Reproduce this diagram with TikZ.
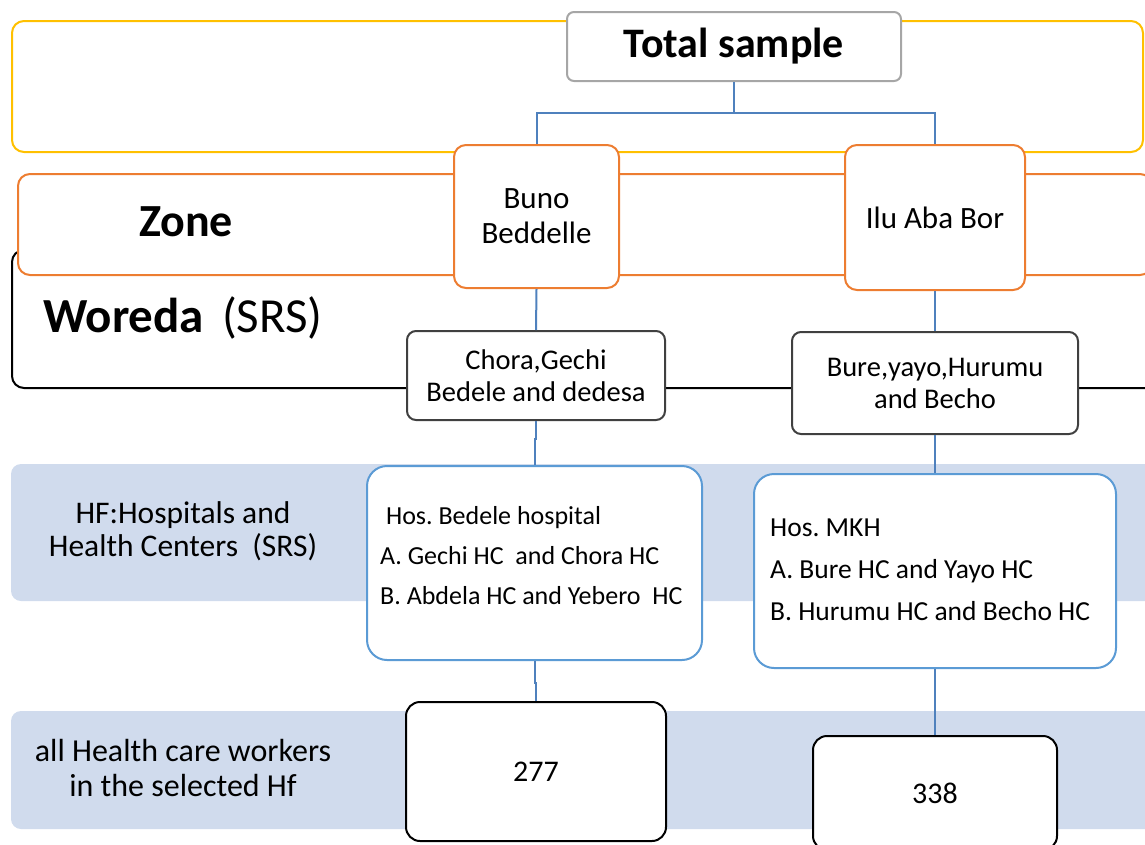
\documentclass[tikz,border=0pt]{standalone}
\usepackage{fontspec}
\setmainfont{Carlito}
\frenchspacing
\definecolor{cyel}{HTML}{FFC000}
\definecolor{corg}{HTML}{ED7D31}
\definecolor{cblu}{HTML}{5B9BD5}
\definecolor{cline}{HTML}{4F81BD}
\definecolor{cband}{HTML}{D0DBED}
\definecolor{cgray}{HTML}{A6A6A6}
\definecolor{cdark}{HTML}{404040}
\tikzset{
  box/.style={draw, line width=2pt, fill=white, rounded corners=10pt, inner sep=0pt},
  orgbox/.style={box, draw=corg, rounded corners=12pt, font=\fontsize{31}{35}\selectfont, align=center},
  darkbox/.style={box, draw=cdark, rounded corners=9pt, font=\fontsize{28.5}{32}\selectfont, align=center},
  hfbox/.style={box, draw=cblu, rounded corners=20pt},
  numbox/.style={box, draw=black, rounded corners=14pt, font=\fontsize{30}{36}\selectfont},
  conn/.style={draw=cline, line width=2pt},
  hftext/.style={inner sep=0pt, align=left, font=\fontsize{26}{40}\selectfont},
  sidetext/.style={inner sep=0pt, align=center, font=\fontsize{32}{35}\selectfont}
}
\begin{document}
\begin{tikzpicture}[x=1pt,y=-1pt]
\useasboundingbox (0,0) rectangle (1145,844);
\clip (0,0) rectangle (1145,844);
% bands
\draw[cyel, line width=2pt, rounded corners=12pt] (12,21) rectangle (1143,152);
\draw[black, line width=2pt, rounded corners=12pt] (12,250) rectangle (1165,388);
\draw[corg, fill=white, line width=2pt, rounded corners=12pt] (18,174) rectangle (1152,275);
\fill[cband, rounded corners=10pt] (11,464) rectangle (1160,601);
\fill[cband, rounded corners=10pt] (11,711) rectangle (1160,829);
% side labels
\node[inner sep=0pt, font=\fontsize{46}{50}\selectfont\bfseries] (zone) at (186,222) {Zone};
\node[inner sep=0pt, anchor=base west, font=\fontsize{49}{52}\selectfont] (woreda) at (43,332) {\textbf{Woreda}\hspace{18pt}(SRS)};
\node[sidetext, font=\fontsize{31.5}{33}\selectfont] (hflab) at (183,531) {HF:Hospitals and\\Health Centers\ \ (SRS)};
\node[sidetext] (hcw) at (183,768) {all Health care workers\\in the selected Hf};
% boxes
\node[box, draw=cgray, rounded corners=7pt, minimum width=334pt, minimum height=69pt, font=\fontsize{42}{46}\selectfont\bfseries] (total) at (734,46.5) {Total sample};
\node[orgbox, minimum width=165pt, minimum height=143pt] (buno) at (536.5,216.5) {Buno\\Beddelle};
\node[orgbox, minimum width=180pt, minimum height=145pt] (ilu) at (935,217.5) {Ilu Aba Bor};
\node[darkbox, minimum width=258pt, minimum height=89pt] (chora) at (536,375.5) {Chora,Gechi\\Bedele and dedesa};
\node[darkbox, minimum width=286pt, minimum height=102pt] (bure) at (935,383) {Bure,yayo,Hurumu\\and Becho};
\node[hfbox, minimum width=335pt, minimum height=194pt] (hfl) at (534.5,563) {};
\node[hfbox, minimum width=362pt, minimum height=194pt] (hfr) at (935,571) {};
\node[hftext, anchor=west] (hflt) at (380,556) {\ Hos. Bedele hospital\\A. Gechi HC\ \ and Chora HC\\B. Abdela HC and Yebero\ \ HC};
\node[hftext, anchor=west, font=\fontsize{27.5}{42}\selectfont] (hfrt) at (770,570) {Hos. MKH\\A. Bure HC and Yayo HC\\B. Hurumu HC and Becho HC};
\node[numbox, minimum width=260pt, minimum height=139pt] (n277) at (536,771.5) {277};
\node[numbox, minimum width=244pt, minimum height=114pt] (n338) at (935,793) {338};
% connectors
\draw[conn] (total.south) -- ++(0,31) coordinate (tm);
\draw[conn] (tm) -| (buno.north);
\draw[conn] (tm) -| (ilu.north);
\draw[conn] (buno.south) -- (chora.north);
\draw[conn] (chora.south) -- ++(0,18) coordinate (cj) -| (hfl.north);
\draw[conn] (ilu.south) -- (bure.north);
\draw[conn] (bure.south) -- (hfr.north);
\draw[conn] (hfl.south) -- ++(0,22) coordinate (hj) -| (n277.north);
\draw[conn] (hfr.south) -- (n338.north);
\end{tikzpicture}
\end{document}
